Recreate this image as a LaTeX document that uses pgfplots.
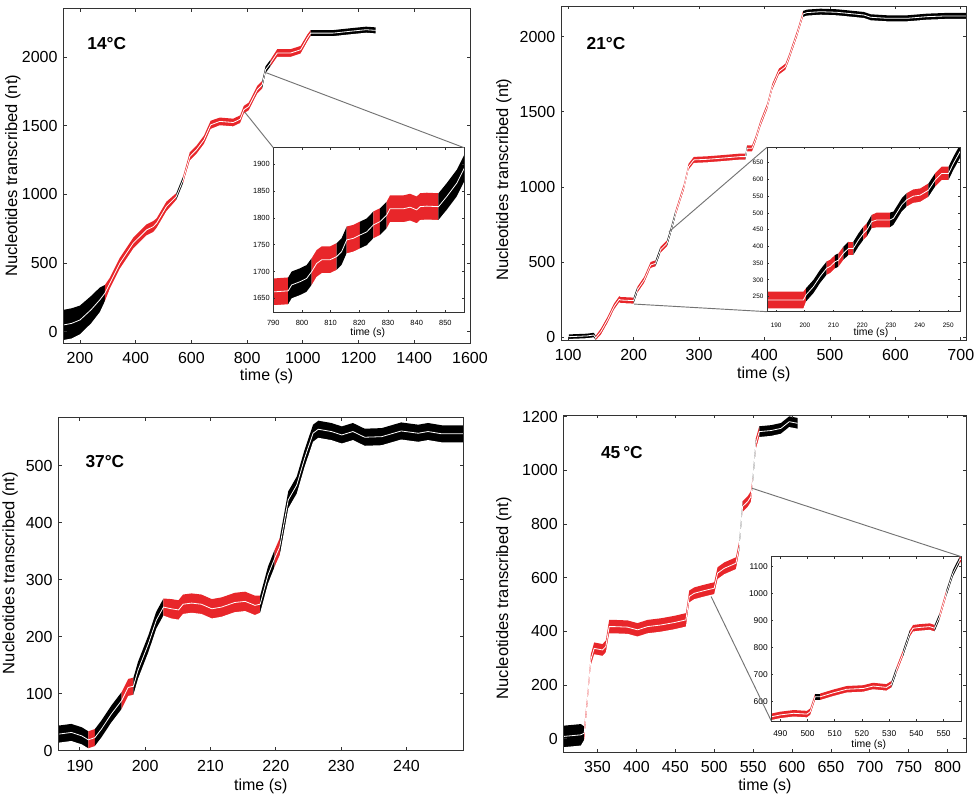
\documentclass[border=0pt]{standalone}
\usepackage{fontspec}
\setmainfont{Liberation Sans}
\usepackage{pgfplots}
\pgfplotsset{compat=1.18}
\usepackage{pgfplotstable}
\definecolor{cr}{RGB}{232,38,42}

\pgfplotsset{
 mat/.style={scale only axis, axis on top, tick align=inside, major tick length=2.6pt,
   axis line style={black!80,line width=0.7pt},
   every tick/.style={black!80,line width=0.6pt},
   tick label style={font=\fontsize{12}{14}\selectfont},
   xticklabel style={yshift=-3.6pt},
   yticklabel style={xshift=-0.8pt},
   xlabel style={font=\fontsize{12}{14}\selectfont},
   ylabel style={font=\fontsize{12.4}{14}\selectfont},
   /pgf/number format/1000 sep={},
   /pgf/number format/assume math mode=true,
   anchor=south west},
 ins/.style={mat, major tick length=1.6pt, axis background/.style={fill=white},
   tick label style={font=\fontsize{5.6}{6}\selectfont, inner sep=0.5pt},
   xticklabel style={yshift=-2pt},
   yticklabel style={xshift=-1.2pt},
   xlabel style={font=\fontsize{7.8}{8.5}\selectfont, inner sep=0.3pt}},
}
% coloured part of the noise band: from upper envelope downwards, for x in [#3,#4]
\newcommand\seg[4]{\addplot[fill=#2,draw=none,restrict x to domain=#3:#4]
  table[x=x,y expr=\thisrow{y}+\thisrow{h}]{#1} -- (axis cs:#4,-5000) -- (axis cs:#3,-5000) -- cycle;}
% clear everything below the lower envelope; #2,#3 outer x, #4,#5 first/last lower value
\newcommand\clr[5]{\addplot[fill=white,draw=none]
  table[x=x,y expr=\thisrow{y}-\thisrow{h}]{#1} -- (axis cs:#3,#5) -- (axis cs:#3,-5000)
  -- (axis cs:#2,-5000) -- (axis cs:#2,#4) -- cycle;}
\newcommand\midl[1]{\addplot[white,line width=0.6pt] table[x=x,y=y]{#1};}

\pgfplotstableread{
x y h
140 48 110
170 60 110
200 85 105
240 160 100
271 231 90
289 279 60
307 352 40
343 498 40
391 644 40
439 741 40
463 765 40
475 790 35
510 911 35
546 984 25
570 1105 25
594 1275 30
618 1324 30
645 1397 30
669 1506 30
702 1531 28
750 1523 28
775 1547 28
788 1616 28
806 1640 28
836 1761 28
854 1798 28
866 1907 25
884 1956 25
908 2029 28
956 2029 28
992 2053 28
1016 2138 25
1028 2174 22
1108 2174 22
1168 2187 22
1227 2199 22
1261 2194 22
}\tTL

\pgfplotstableread{
x y h
790 1662 25
795.2 1664 25
796.4 1675 25
799.3 1681 25
801.6 1687 25
803.4 1700 25
805.1 1715 25
806.9 1722 25
809.8 1722 25
812.1 1728 25
813.8 1737 25
815.6 1759 25
817.9 1762 25
820.2 1768 25
822.6 1774 25
824.9 1787 25
827.2 1793 25
829.5 1805 25
830.7 1817 25
835.3 1817 25
837.7 1820 25
840 1815 25
841.2 1821 25
843.5 1822 25
847.6 1821 25
850.5 1840 25
854 1865 25
856.9 1896 25
}\tTLi

\pgfplotstableread{
x y h
101 4 15
129 9 15
139 15 15
142 -5 15
150 38 20
160 115 20
170 204 20
178 253 20
180 248 20
200 244 20
205.6 315 20
216 381 20
226 481 20
233.6 492 20
241 581 20
251 625 20
256.5 703 20
264 825 20
277 1002 20
284 1135 20
292 1180 20
312.5 1184 20
333 1191 20
363 1202 20
371 1202 20
373.5 1257 20
381 1257 20
386 1313 20
394 1424 20
404 1534 20
412 1667 20
422 1767 20
432 1800 20
437 1856 20
450 2022 20
459 2151 20
465 2160 20
485.6 2166 20
511 2162 20
536.5 2151 20
552 2144 20
562 2129 20
587.5 2122 20
618 2122 20
648.5 2133 20
679 2138 20
709.5 2138 20
}\tTR

\pgfplotstableread{
x y h
186.8 240 25
199.5 240 25
200.4 255 20
203 280 20
205.3 310 20
207.6 335 20
208.8 340 20
210.5 354 20
211.7 359 20
213.4 379 20
215.2 394 20
216.9 394 20
218.7 419 20
220.4 439 20
221.6 449 20
223.3 474 20
225.1 479 22
229.7 479 22
230.9 484 20
233.8 524 20
235.5 539 20
237.8 550 20
240.2 553 20
243.1 568 20
245.4 598 20
247.7 618 20
250.1 618 20
251.8 648 20
254.2 685 20
}\tTRi

\pgfplotstableread{
x y h
186.7 29 15
188.7 32 15
190.3 26 15
191.3 19 15
192.3 23 15
193.3 38 15
194.8 64 15
196.4 88 15
197.4 111 15
198.2 113 15
198.9 141 15
200.5 188 15
201.7 229 15
202.8 252 15
204 249 17
205.1 247 17
205.8 257 17
207.1 259 17
208.6 257 17
210.2 249 17
211.7 252 17
213.7 260 17
215.3 262 17
216.8 255 17
217.6 257 15
218.8 308 15
219.8 337 15
220.6 358 15
221.9 440 15
223.2 466 15
224.4 513 15
225.7 557 15
226.5 564 15
228.5 560 15
230.1 554 15
231.8 560 15
233.6 550 15
236.2 551 15
239.2 561 15
241.8 557 15
243.3 560 15
245.4 556 15
248.7 556 15
}\tBL

\pgfplotstableread{
x y h
306.3 9 40
328.6 15 40
332.9 21 25
337 145 20
341.4 294 20
345.7 337 22
356.4 331 22
360.7 344 22
365 418 25
371.4 418 25
388.6 416 25
401.4 406 25
414.3 418 25
431.4 424 25
448.6 433 25
463.6 443 25
467.9 530 22
474.3 542 22
487.1 552 22
500 561 22
504.3 617 22
512.9 635 22
527.9 654 22
532.1 716 20
536.4 865 20
542.9 883 20
547.1 902 20
549.3 952 20
553.6 1100 20
557.9 1144 20
572.9 1148 20
585.7 1156 20
596.4 1181 20
607.1 1175 20
}\tBR

\pgfplotstableread{
x y h
486.7 544 12
490 551 12
494.9 557 12
499.8 554 12
501 563 12
502.8 618 12
504.6 618 12
509.5 633 12
514.4 646 12
520.5 649 12
524.1 658 12
529 653 12
530.9 665 12
532.7 717 12
535.1 779 12
537.6 853 12
538.8 872 12
541.2 875 12
544.9 878 12
546.7 872 12
548.5 915 12
551 1001 12
553.4 1075 12
555.9 1125 12
556.5 1130 12
}\tBRi

\begin{document}
\begin{tikzpicture}
\useasboundingbox (0,0) rectangle (730.5pt,598.5pt);

% ---------- 14 C ----------
\begin{axis}[mat, name=aTL, at={(47.48pt,341.03pt)}, width=305pt, height=251.25pt,
  xmin=140, xmax=1600, ymin=-85, ymax=2355,
  xtick={200,400,...,1600}, ytick={0,500,...,2000},
  xlabel={time (s)}, ylabel={Nucleotides transcribed (nt)},
  xlabel style={at={(axis description cs:0.5,-0.1)},anchor=center},
  ylabel style={at={(axis description cs:-0.124,0.5)},anchor=center}]
\seg{\tTL}{black}{140}{289}
\seg{\tTL}{cr}{289}{546}
\seg{\tTL}{black}{546}{570}
\seg{\tTL}{cr}{570}{854}
\seg{\tTL}{black}{854}{884}
\seg{\tTL}{cr}{884}{1028}
\seg{\tTL}{black}{1028}{1261}
\clr{\tTL}{130}{1300}{-62}{2172}
\midl{\tTL}
\node[font=\bfseries\fontsize{13}{15}\selectfont] at (axis description cs:0.107,0.896) {14°C};
\coordinate (c1) at (axis cs:791,1600);
\coordinate (c2) at (axis cs:869,1885);
\end{axis}

\begin{axis}[ins, name=iTL, at={(204.98pt,364.28pt)}, width=143.03pt, height=123.45pt,
  xmin=790, xmax=856.5, ymin=1624, ymax=1931,
  xtick={790,800,...,850}, ytick={1650,1700,...,1900},
  xlabel={time (s)},
  xlabel style={at={(axis description cs:0.495,-0.122)},anchor=center}]
\seg{\tTLi}{cr}{790}{795.2}
\seg{\tTLi}{black}{795.2}{803.4}
\seg{\tTLi}{cr}{803.4}{812.1}
\seg{\tTLi}{black}{812.1}{815.6}
\seg{\tTLi}{cr}{815.6}{820.2}
\seg{\tTLi}{black}{820.2}{824.9}
\seg{\tTLi}{cr}{824.9}{827.2}
\seg{\tTLi}{black}{827.2}{829.5}
\seg{\tTLi}{cr}{829.5}{847.6}
\seg{\tTLi}{black}{847.6}{856.9}
\clr{\tTLi}{789}{860}{1637}{1871}
\midl{\tTLi}
\end{axis}
\draw[black!55,line width=0.7pt] (c1) -- (iTL.north west);
\draw[black!55,line width=0.7pt] (c2) -- (iTL.north east);

% ---------- 21 C ----------
\begin{axis}[mat, name=aTR, at={(420.75pt,343.5pt)}, width=304.28pt, height=250.5pt,
  xmin=89, xmax=709, ymin=-18, ymax=2204,
  xtick={100,200,...,700}, ytick={0,500,...,2000},
  xlabel={time (s)}, ylabel={Nucleotides transcribed (nt)},
  xlabel style={at={(axis description cs:0.5,-0.102)},anchor=center},
  ylabel style={at={(axis description cs:-0.141,0.48)},anchor=center}]
\seg{\tTR}{black}{101}{142}
\seg{\tTR}{cr}{142}{200}
\seg{\tTR}{black}{200}{205.6}
\seg{\tTR}{cr}{205.6}{233.6}
\seg{\tTR}{black}{233.6}{241}
\seg{\tTR}{cr}{241}{251}
\seg{\tTR}{black}{251}{264}
\seg{\tTR}{cr}{264}{371}
\seg{\tTR}{black}{371}{373.5}
\seg{\tTR}{cr}{373.5}{459}
\seg{\tTR}{black}{459}{709.5}
\clr{\tTR}{90}{730}{-11}{2118}
\midl{\tTR}
\node[font=\bfseries\fontsize{13}{15}\selectfont] at (axis description cs:0.111,0.889) {21°C};
\coordinate (c3) at (axis cs:200.6,221);
\coordinate (c4) at (axis cs:254,702);
\end{axis}

\begin{axis}[ins, name=iTR, at={(575.25pt,364.73pt)}, width=144.98pt, height=123.3pt,
  tick label style={font=\fontsize{4.8}{5.5}\selectfont},
  xticklabel style={yshift=-2.4pt},
  xmin=186.8, xmax=254.2, ymin=205, ymax=696,
  xtick={190,200,...,250}, ytick={250,300,...,650},
  xlabel={time (s)},
  xlabel style={at={(axis description cs:0.538,-0.128)},anchor=center}]
\seg{\tTRi}{cr}{186.8}{200.4}
\seg{\tTRi}{black}{200.4}{207.6}
\seg{\tTRi}{cr}{207.6}{210.5}
\seg{\tTRi}{black}{210.5}{211.7}
\seg{\tTRi}{cr}{211.7}{213.4}
\seg{\tTRi}{black}{213.4}{215.2}
\seg{\tTRi}{cr}{215.2}{216.9}
\seg{\tTRi}{black}{216.9}{220.4}
\seg{\tTRi}{cr}{220.4}{221.6}
\seg{\tTRi}{black}{221.6}{223.3}
\seg{\tTRi}{cr}{223.3}{229.7}
\seg{\tTRi}{black}{229.7}{235.5}
\seg{\tTRi}{cr}{235.5}{243.1}
\seg{\tTRi}{black}{243.1}{245.4}
\seg{\tTRi}{cr}{245.4}{250.1}
\seg{\tTRi}{black}{250.1}{254.2}
\clr{\tTRi}{185}{258}{215}{665}
\midl{\tTRi}
\end{axis}
\draw[black!55,line width=0.7pt] (c3) -- (iTR.south west);
\draw[black!55,line width=0.7pt] (c4) -- (iTR.north west);

% ---------- 37 C ----------
\begin{axis}[mat, name=aBL, at={(43.73pt,35.48pt)}, width=303.75pt, height=250.05pt,
  xmin=186.7, xmax=248.7, ymin=0, ymax=585,
  xtick={190,200,...,240}, ytick={0,100,...,500},
  xlabel={time (s)}, ylabel={Nucleotides transcribed (nt)},
  xlabel style={at={(axis description cs:0.5,-0.106)},anchor=center},
  ylabel style={at={(axis description cs:-0.119,0.533)},anchor=center}]
\seg{\tBL}{black}{186.7}{191.3}
\seg{\tBL}{cr}{191.3}{192.3}
\seg{\tBL}{black}{192.3}{196.4}
\seg{\tBL}{cr}{196.4}{198.2}
\seg{\tBL}{black}{198.2}{202.8}
\seg{\tBL}{cr}{202.8}{217.6}
\seg{\tBL}{black}{217.6}{219.8}
\seg{\tBL}{cr}{219.8}{220.6}
\seg{\tBL}{black}{220.6}{248.7}
\clr{\tBL}{186}{252}{14}{541}
\midl{\tBL}
\node[font=\bfseries\fontsize{13}{15}\selectfont] at (axis description cs:0.115,0.866) {37°C};
\end{axis}

% ---------- 45 C ----------
\begin{axis}[mat, name=aBR, at={(422.63pt,34.28pt)}, width=302.1pt, height=252.98pt,
  xmin=306.3, xmax=824, ymin=-50, ymax=1206,
  xtick={350,400,...,800}, ytick={0,200,...,1200},
  xlabel={time (s)}, ylabel={Nucleotides transcribed (nt)},
  xlabel style={at={(axis description cs:0.5,-0.102)},anchor=center},
  ylabel style={at={(axis description cs:-0.148,0.457)},anchor=center}]
\seg{\tBR}{black}{306.3}{332.9}
\seg{\tBR}{cr}{332.9}{532.1}
\seg{\tBR}{black!70}{532.1}{536.4}
\seg{\tBR}{cr}{536.4}{549.3}
\seg{\tBR}{black!70}{549.3}{553.6}
\seg{\tBR}{cr}{553.6}{557.9}
\seg{\tBR}{black}{557.9}{607.1}
\clr{\tBR}{303}{625}{-31}{1155}
\midl{\tBR}
\node[font=\bfseries\fontsize{13}{15}\selectfont] at (axis description cs:0.145,0.89) {45\,°C};
\coordinate (c5) at (axis cs:496,530);
\coordinate (c6) at (axis cs:548.7,933);
\end{axis}

\begin{axis}[ins, name=iBR, at={(578.48pt,57.75pt)}, width=142.5pt, height=123.23pt,
  tick label style={font=\fontsize{6.3}{7}\selectfont},
  xticklabel style={yshift=-1.2pt},
  xmin=486.7, xmax=556.5, ymin=528.5, ymax=1137,
  xtick={490,500,...,550}, ytick={600,700,...,1100},
  xlabel={time (s)},
  xlabel style={at={(axis description cs:0.513,-0.142)},anchor=center}]
\seg{\tBRi}{cr}{486.7}{502.8}
\seg{\tBRi}{black}{502.8}{504.6}
\seg{\tBRi}{cr}{504.6}{530.9}
\seg{\tBRi}{black}{530.9}{532.7}
\seg{\tBRi}{cr}{532.7}{535.1}
\seg{\tBRi}{black}{535.1}{537.6}
\seg{\tBRi}{cr}{537.6}{546.7}
\seg{\tBRi}{black}{546.7}{548.5}
\seg{\tBRi}{cr}{548.5}{551}
\seg{\tBRi}{black}{551}{555.9}
\seg{\tBRi}{cr}{555.9}{556.5}
\clr{\tBRi}{485}{560}{532}{1118}
\midl{\tBRi}
\end{axis}
\draw[black!55,line width=0.7pt] (c5) -- (iBR.south west);
\draw[black!55,line width=0.7pt] (c6) -- (iBR.north east);

\end{tikzpicture}
\end{document}
